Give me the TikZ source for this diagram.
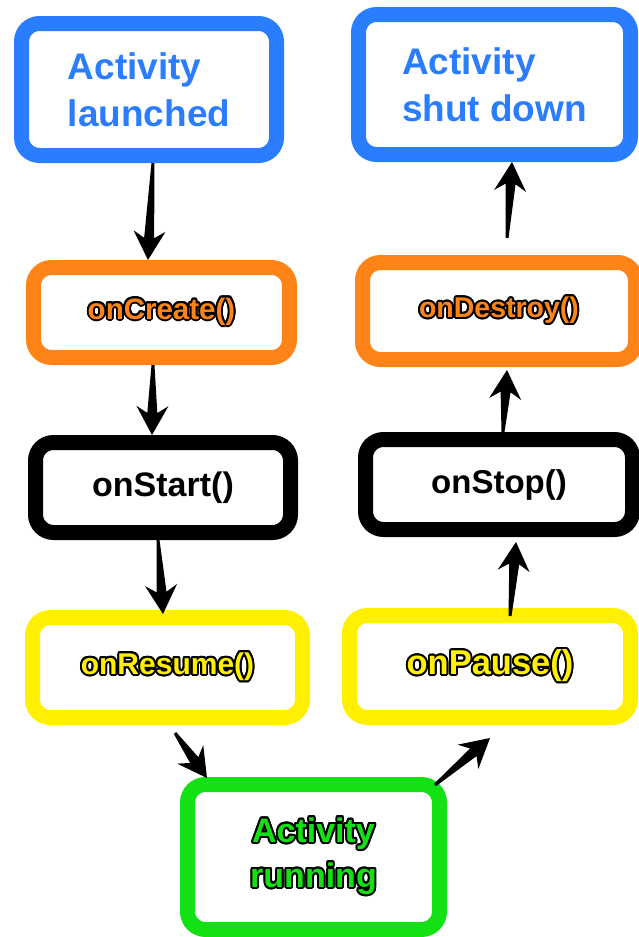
\documentclass[tikz,border=0pt]{standalone}
\usepackage{fontspec}
\setmainfont{Liberation Sans}
\usepackage[copies]{contour}
\usetikzlibrary{calc}

\definecolor{lifeblue}{HTML}{2A7DFF}
\definecolor{lifeorange}{HTML}{FF8418}
\definecolor{lifeyellow}{HTML}{FFF000}
\definecolor{lifegreen}{HTML}{14E114}

\contourlength{1.9pt}
\newcommand{\outlined}[2]{\contour{black}{\textcolor{#1}{#2}}}

\begin{document}
\begin{tikzpicture}[x=1pt,y=-1pt]
	\tikzset{box/.style = {shape=rectangle, draw, fill=white, line width=15pt, rounded corners=18pt, inner sep=0pt, align=center}}
	\tikzset{edge/.style = {to path={
		($(\tikztostart)!1.5pt!90:(\tikztotarget)$)
		-- ($(\tikztotarget)!22pt!(\tikztostart)!5pt!-90:(\tikztostart)$)
		-- ($(\tikztotarget)!29pt!(\tikztostart)!16pt!-90:(\tikztostart)$)
		-- (\tikztotarget)
		-- ($(\tikztotarget)!29pt!(\tikztostart)!16pt!90:(\tikztostart)$)
		-- ($(\tikztotarget)!22pt!(\tikztostart)!5pt!90:(\tikztostart)$)
		-- ($(\tikztostart)!1.5pt!-90:(\tikztotarget)$) -- cycle}}}
	\useasboundingbox (0,0) rectangle (638,937);
	% left column
	\node[box, draw=lifeblue, text=lifeblue, minimum width=255pt, minimum height=132pt, align=left, font=\fontsize{37}{47}\selectfont\bfseries] (launched) at (149, 89.5) {Activity\\launched};
	\node[box, draw=lifeorange, minimum width=256pt, minimum height=90pt, font=\fontsize{29.5}{35}\selectfont\bfseries] (create) at (161.5, 312.5) {\outlined{lifeorange}{onCreate()}};
	\node[box, draw=black, minimum width=255pt, minimum height=90pt, font=\fontsize{34}{40}\selectfont\bfseries] (start) at (163, 487.5) {onStart()};
	\node[box, draw=lifeyellow, minimum width=270pt, minimum height=100pt, font=\fontsize{30}{35}\selectfont\bfseries] (resume) at (167.5, 667.5) {\outlined{lifeyellow}{onResume()}};
	% right column
	\node[box, draw=lifeblue, text=lifeblue, minimum width=272pt, minimum height=140pt, align=left, font=\fontsize{37}{47}\selectfont\bfseries] (shutdown) at (494.5, 84.5) {Activity\\shut down};
	\node[box, draw=lifeorange, minimum width=273pt, minimum height=97pt, font=\fontsize{28.5}{34}\selectfont\bfseries] (destroy) at (499, 311) {\outlined{lifeorange}{onDestroy()}};
	\node[box, draw=black, minimum width=267pt, minimum height=90pt, font=\fontsize{33}{40}\selectfont\bfseries] (stop) at (499, 484.5) {onStop()};
	\node[box, draw=lifeyellow, minimum width=281pt, minimum height=102pt, font=\fontsize{34.5}{40}\selectfont\bfseries] (pause) at (490, 666.5) {\outlined{lifeyellow}{onPause()}};
	% bottom
	\node[box, draw=lifegreen, minimum width=252pt, minimum height=145pt, font=\fontsize{34}{45}\selectfont\bfseries] (running) at (313.5, 857) {\outlined{lifegreen}{Activity}\\\outlined{lifegreen}{running}};
	% arrows
	\fill ([xshift=4pt]launched.south) to[edge] ([xshift=-13.5pt]create.north);
	\fill ([xshift=-8.5pt]create.south) to[edge] ([xshift=-11pt]start.north);
	\fill ([xshift=-5pt]start.south) to[edge] ([xshift=-4.5pt,yshift=-4pt]resume.north);
	\fill ([xshift=7.5pt,yshift=-8pt]resume.south) to[edge] ([xshift=27pt,yshift=-1pt]running.north west);
	\fill ([xshift=-12pt,yshift=-8pt]running.north east) to[edge] ([yshift=-13pt]pause.south);
	\fill ([xshift=20pt,yshift=-8pt]pause.north) to[edge] ([xshift=17pt,yshift=-5pt]stop.south);
	\fill ([xshift=4pt]stop.north) to[edge] ([xshift=8pt,yshift=-3pt]destroy.south);
	\fill ([xshift=8pt,yshift=17pt]destroy.north) to[edge] ([xshift=17.5pt]shutdown.south);
\end{tikzpicture}
\end{document}
